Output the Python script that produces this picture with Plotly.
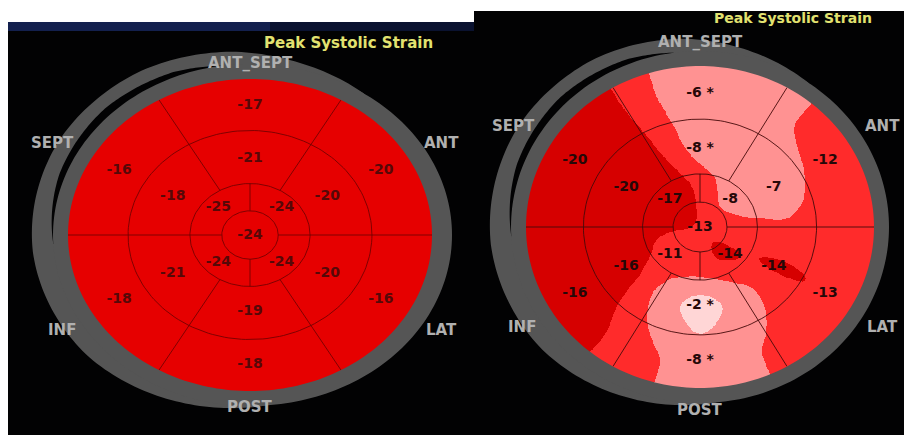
import numpy as np
import plotly.graph_objects as go

# ---------------------------------------------------------------- data
WALLS = ["ANT_SEPT", "ANT", "LAT", "POST", "INF", "SEPT"]
TITLE = "Peak Systolic Strain"

# basal / mid rings follow the WALLS order; apical quadrants are
# upper-right, upper-left, lower-left, lower-right
left_basal = [-17, -20, -16, -18, -18, -16]
left_mid = [-21, -20, -20, -19, -21, -18]
left_apical = [-24, -25, -24, -24]
left_apex = -24

right_basal = [-6, -12, -13, -8, -16, -20]
right_mid = [-8, -7, -14, -2, -16, -20]
right_apical = [-8, -17, -11, -14]
right_apex = -13
right_basal_flag = [True, False, False, True, False, False]
right_mid_flag = [True, False, False, True, False, False]

# strain bands: below -13.2 | -13.2..-10 | -10..-5.5 | above -5.5
BAND_EDGES = [-13.2, -10, -5.5]

# ---------------------------------------------------------------- geometry
WALL_ANGLES = np.array([90, 30, 330, 270, 210, 150], float)
APICAL_ANGLES = np.array([45, 135, 225, 315], float)
R_TEXT = (0.83, 0.49, 0.245)          # basal, mid, apical label radii
R_MID, R_APICAL, R_APEX = 0.67, 0.33, 0.155

W, H = 904, 435

panels = [
    dict(box=(8, 22, 474, 435), cx=250, cy=235, rx=182, ry=156, ring=15, ring_x=5,
         basal=left_basal, mid=left_mid, apical=left_apical, apex=left_apex,
         bflag=[False] * 6, mflag=[False] * 6,
         colors=["#e60000", "#ff2a2a", "#ff8f8f", "#ffd4d4"],
         text="#560808", line="rgba(110,0,0,0.85)",
         labels=[(250, 63), (441, 143), (441, 330), (250, 407), (62, 330), (52, 143)],
         title=(348, 43, 15)),
    dict(box=(474, 11, 904, 435), cx=700, cy=227, rx=174, ry=161, ring=15, ring_x=0,
         basal=right_basal, mid=right_mid, apical=right_apical, apex=right_apex,
         bflag=right_basal_flag, mflag=right_mid_flag,
         colors=["#d60000", "#ff2b2b", "#ff9292", "#ffd6d6"],
         text="#260808", line="rgba(70,10,10,0.9)",
         labels=[(700, 42), (882, 126), (882, 327), (700, 410), (522, 327), (513, 126)],
         title=(793, 18, 14)),
]

# extra thickness of the outer grey arc and the dark gap inside it (px),
# as a function of the ellipse angle in degrees
ARC_ANG = [55, 75, 95, 120, 150, 185, 220, 250, 275]
ARC_EXT = [0, 6, 13, 19, 22, 21, 16, 7, 0]
GAP_ANG = [98, 112, 135, 160, 183]
GAP_EXT = [0, 5, 8, 6, 0]

GREY = "#555555"
BLACK = "#020203"
LABEL = "#b0b0b0"
YELLOW = "#e2e270"
FONT = "DejaVu Sans"


def smooth(Z, sigma):
    """Separable gaussian smoothing of a 2-D grid (edge values repeated)."""
    k = int(3 * sigma)
    w = np.exp(-0.5 * (np.arange(-k, k + 1) / sigma) ** 2)
    w /= w.sum()
    P = np.pad(Z, k, mode="edge")
    P = np.apply_along_axis(lambda r: np.convolve(r, w, mode="valid"), 1, P)
    P = np.apply_along_axis(lambda c: np.convolve(c, w, mode="valid"), 0, P)
    return P


def strain_field(p, n=380):
    """Polar interpolation of the segment values over the unit disc."""
    g = np.linspace(-1.01, 1.01, n)
    X, Y = np.meshgrid(g, g)
    R = np.hypot(X, Y)
    T = np.degrees(np.arctan2(Y, X)) % 360
    pb = np.interp(T, WALL_ANGLES, np.array(p["basal"], float), period=360)
    pm = np.interp(T, WALL_ANGLES, np.array(p["mid"], float), period=360)
    pa = np.interp(T, APICAL_ANGLES, np.array(p["apical"], float), period=360)
    r1, r2, r3 = R_TEXT[2], R_TEXT[1], R_TEXT[0]
    a = float(p["apex"])
    Z = np.where(R <= r1, a + (pa - a) * R / r1,
        np.where(R <= r2, pa + (pm - pa) * (R - r1) / (r2 - r1),
        np.where(R <= r3, pm + (pb - pm) * (R - r2) / (r3 - r2), pb)))
    Z = smooth(Z, 7)
    band = np.digitize(Z, BAND_EDGES).astype(float)
    band[R > 1.008] = np.nan
    return g, band


def path_from(xs, ys):
    pts = " L ".join(f"{x:.5f},{y:.5f}" for x, y in zip(xs, ys))
    return "M " + pts + " Z"


def ell(p, d, phi):
    """Point on the ellipse offset by d pixels outside the map edge (data units)."""
    t = np.radians(phi)
    return (p["rx"] + d) / p["rx"] * np.cos(t), (p["ry"] + d) / p["ry"] * np.sin(t)


def ring_w(p, phi):
    return p["ring"] + p["ring_x"] * np.clip(np.cos(np.radians(phi)), 0, None) ** 2


fig = go.Figure()
shapes, annotations = [], []

for i, p in enumerate(panels):
    sx = "" if i == 0 else "2"
    xa, ya = "x" + sx, "y" + sx
    bx0, by0, bx1, by1 = p["box"]
    cx, cy, rx, ry = p["cx"], p["cy"], p["rx"], p["ry"]

    def px(x, y):
        return (x - cx) / rx, (cy - y) / ry

    # axes spanning the whole panel so the map edge maps to the unit circle
    fig.update_layout(**{
        "xaxis" + sx: dict(domain=[bx0 / W, bx1 / W], range=[(bx0 - cx) / rx, (bx1 - cx) / rx],
                           visible=False, fixedrange=True, anchor=ya),
        "yaxis" + sx: dict(domain=[1 - by1 / H, 1 - by0 / H], range=[(cy - by1) / ry, (cy - by0) / ry],
                           visible=False, fixedrange=True, anchor=xa),
    })

    # panel background
    shapes.append(dict(type="rect", xref="paper", yref="paper", x0=bx0 / W, x1=bx1 / W,
                       y0=1 - by1 / H, y1=1 - by0 / H, fillcolor=BLACK, line_width=0, layer="below"))

    # outer grey arc
    phi = np.linspace(ARC_ANG[0], ARC_ANG[-1], 160)
    ext = np.interp(phi, ARC_ANG, ARC_EXT)
    ox, oy = ell(p, ring_w(p, phi) + ext, phi)
    ix, iy = ell(p, ring_w(p, phi[::-1]) - 3, phi[::-1])
    shapes.append(dict(type="path", xref=xa, yref=ya, layer="below", line_width=0,
                       fillcolor=GREY, path=path_from(np.r_[ox, ix], np.r_[oy, iy])))
    # dark gap between the arc and the ring
    phi = np.linspace(GAP_ANG[0], GAP_ANG[-1], 120)
    gap = np.interp(phi, GAP_ANG, GAP_EXT)
    ox, oy = ell(p, ring_w(p, phi) + gap, phi)
    ix, iy = ell(p, ring_w(p, phi[::-1]) - 2, phi[::-1])
    shapes.append(dict(type="path", xref=xa, yref=ya, layer="below", line_width=0,
                       fillcolor=BLACK, path=path_from(np.r_[ox, ix], np.r_[oy, iy])))
    # grey ring around the map (with a hole), drawn above the map
    phi = np.linspace(0, 360, 241)
    ox, oy = ell(p, ring_w(p, phi), phi)
    ix, iy = ell(p, 0, phi[::-1])
    ring_path = path_from(ox, oy) + " " + path_from(ix, iy)
    shapes.append(dict(type="path", xref=xa, yref=ya, layer="above", line_width=0,
                       fillcolor=GREY, path=ring_path))

    # strain map
    g, band = strain_field(p)
    c = p["colors"]
    cs = [[0, c[0]], [0.25, c[0]], [0.25, c[1]], [0.5, c[1]],
          [0.5, c[2]], [0.75, c[2]], [0.75, c[3]], [1, c[3]]]
    fig.add_trace(go.Heatmap(x=g, y=g, z=band, colorscale=cs, zmin=-0.5, zmax=3.5,
                             showscale=False, hoverinfo="skip", xaxis=xa, yaxis=ya))

    # segment boundaries
    lx, ly = [], []
    t = np.radians(np.linspace(0, 360, 181))
    for r in (R_MID, R_APICAL, R_APEX):
        lx += list(r * np.cos(t)) + [None]
        ly += list(r * np.sin(t)) + [None]
    for a in (60, 120, 240, 300):
        ar = np.radians(a)
        lx += [R_APICAL * np.cos(ar), np.cos(ar), None]
        ly += [R_APICAL * np.sin(ar), np.sin(ar), None]
    for a in (0, 180):
        ar = np.radians(a)
        lx += [R_APEX * np.cos(ar), np.cos(ar), None]
        ly += [0, 0, None]
    for a in (90, 270):
        ar = np.radians(a)
        lx += [0, 0, None]
        ly += [R_APEX * np.sin(ar), R_APICAL * np.sin(ar), None]
    fig.add_trace(go.Scatter(x=lx, y=ly, mode="lines", line=dict(color=p["line"], width=1),
                             hoverinfo="skip", showlegend=False, xaxis=xa, yaxis=ya))

    # segment values
    tx, ty, tt = [], [], []
    for vals, flags, r in ((p["basal"], p["bflag"], R_TEXT[0]), (p["mid"], p["mflag"], R_TEXT[1])):
        for v, f, a in zip(vals, flags, WALL_ANGLES):
            tx.append(r * np.cos(np.radians(a)))
            ty.append(r * np.sin(np.radians(a)))
            tt.append(f"{v} *" if f else f"{v}")
    for v, a in zip(p["apical"], APICAL_ANGLES):
        tx.append(R_TEXT[2] * np.cos(np.radians(a)))
        ty.append(R_TEXT[2] * np.sin(np.radians(a)))
        tt.append(f"{v}")
    tx.append(0)
    ty.append(0)
    tt.append(f"{p['apex']}")
    fig.add_trace(go.Scatter(x=tx, y=ty, mode="text", text=tt, hoverinfo="skip", showlegend=False,
                             textfont=dict(family=FONT, size=14, color=p["text"], weight="bold"),
                             xaxis=xa, yaxis=ya))

    # wall names
    for name, (lxp, lyp) in zip(WALLS, p["labels"]):
        x, y = px(lxp, lyp)
        annotations.append(dict(x=x, y=y, xref=xa, yref=ya, text=name, showarrow=False,
                                font=dict(family=FONT, size=15, color=LABEL, weight="bold")))
    tx_, ty_, ts = p["title"]
    x, y = px(tx_, ty_)
    annotations.append(dict(x=x, y=y, xref=xa, yref=ya, text=TITLE, showarrow=False,
                            font=dict(family=FONT, size=ts, color=YELLOW, weight="bold")))

# navy strip along the top of the left panel
shapes.append(dict(type="rect", xref="paper", yref="paper", x0=8 / W, x1=270 / W,
                   y0=1 - 31 / H, y1=1 - 22 / H, fillcolor="#13204e", line_width=0, layer="below"))
shapes.append(dict(type="rect", xref="paper", yref="paper", x0=270 / W, x1=474 / W,
                   y0=1 - 31 / H, y1=1 - 22 / H, fillcolor="#0a1230", line_width=0, layer="below"))

fig.update_layout(width=W, height=H, autosize=False, margin=dict(l=0, r=0, t=0, b=0),
                  paper_bgcolor="white", plot_bgcolor="rgba(0,0,0,0)",
                  shapes=shapes, annotations=annotations, showlegend=False)

fig.write_html("out.html")
